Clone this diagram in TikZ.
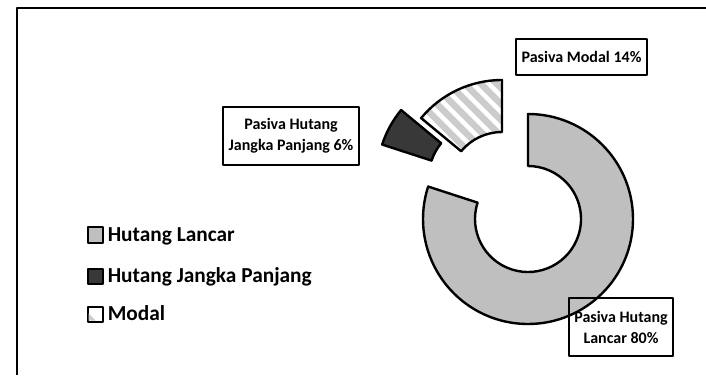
\documentclass[tikz,border=0pt]{standalone}
\usepackage{fontspec}
\setmainfont{Carlito}
\usetikzlibrary{positioning,calc}
\newcommand{\ringseg}[3]{($(#1)+(#2:78.75pt)$) arc[start angle=#2,end angle=#3,radius=78.75pt] -- ($(#1)+(#3:39.75pt)$) arc[start angle=#3,end angle=#2,radius=39.75pt] -- cycle}
\begin{document}
\begin{tikzpicture}[x=0.75pt,y=0.75pt,line join=round,
  seg/.style={draw=black,line width=1.8pt},
  lbl/.style={draw=black,line width=1.5pt,font=\bfseries\fontsize{12}{15.75}\selectfont,align=center,inner sep=0pt},
  key/.style={draw=black,line width=1.5pt,minimum size=11.25pt,inner sep=0pt},
  keytext/.style={font=\bfseries\fontsize{16}{19}\selectfont,inner sep=0pt,text height=10.3pt,text depth=0pt,right=3pt of #1}]
\useasboundingbox (0,0) rectangle (706,375);
\draw[line width=1.5pt] (17,0) -- (17,367) -- (706,367);
\coordinate (lancar) at (528,156);
\coordinate (jangka) at (482,198);
\coordinate (modal) at (502,190);
% ring
\draw[seg,fill=gray!50] \ringseg{lancar}{90}{-198};
\draw[seg,fill=black!78] \ringseg{jangka}{162}{140.4};
\begin{scope}
\clip \ringseg{modal}{140.4}{90};
\fill[white] (modal) circle (80pt);
\foreach \k in {-176,-160,...,176}{\draw[gray!40,line width=5pt] ($(modal)+(\k,0)+(-110,110)$) -- ++(220,-220);};
\end{scope}
\draw[seg] \ringseg{modal}{140.4}{90};
% labels
\node[lbl,minimum width=98.25pt,minimum height=27pt] (lblmodal) at (581.5,318) {Pasiva Modal 14\%};
\node[lbl,minimum width=102pt,minimum height=43.5pt] (lbljangka) at (291,239) {Pasiva Hutang\\Jangka Panjang 6\%};
\node[lbl,minimum width=78pt,minimum height=43.5pt] (lbllancar) at (621,48) {Pasiva Hutang\\Lancar 80\%};
% legend
\node[key,fill=gray!50] (k1) at (95,140) {};
\node[key,fill=black!78] (k2) at (95,99) {};
\node[key,fill=white] (k3) at (95,61) {};
\fill[gray!40] ($(k3.south west)+(2,2)$) -- ++(0,7) -- ++(7,-7) -- cycle;
\node[keytext=k1] (txtlancar) {Hutang Lancar};
\node[keytext=k2] (txtjangka) {Hutang Jangka Panjang};
\node[keytext=k3] (txtmodal) {Modal};
\end{tikzpicture}
\end{document}
